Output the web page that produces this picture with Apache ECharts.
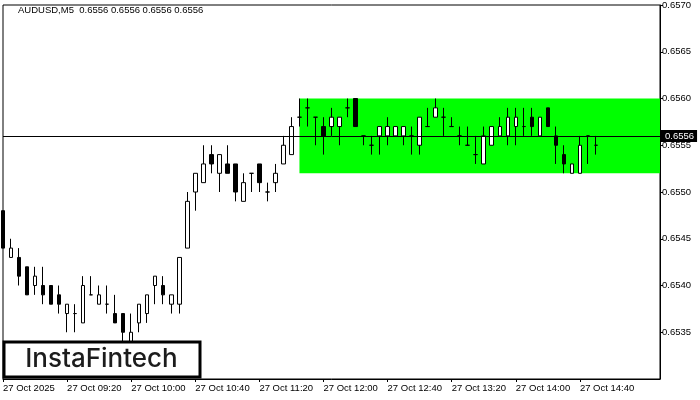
<!DOCTYPE html>
<html>
<head>
<meta charset="utf-8">
<script src="https://cdn.jsdelivr.net/npm/echarts@6/dist/echarts.min.js"></script>
<style>html,body{margin:0;padding:0;background:#fff}#c{width:700px;height:400px}</style>
</head>
<body>
<div id="c"></div>
<script>
// ---- data (AUDUSD, M5, 27 Oct 2025) ----
var categories = ["08:40","08:45","08:50","08:55","09:00","09:05","09:10","09:15",
  "09:20","09:25","09:30","09:35","09:40","09:45","09:50","09:55",
  "10:00","10:05","10:10","10:15","10:20","10:25","10:30","10:35",
  "10:40","10:45","10:50","10:55","11:00","11:05","11:10","11:15",
  "11:20","11:25","11:30","11:35","11:40","11:45","11:50","11:55",
  "12:00","12:05","12:10","12:15","12:20","12:25","12:30","12:35",
  "12:40","12:45","12:50","12:55","13:00","13:05","13:10","13:15",
  "13:20","13:25","13:30","13:35","13:40","13:45","13:50","13:55",
  "14:00","14:05","14:10","14:15","14:20","14:25","14:30","14:35",
  "14:40","14:45","14:50","14:55","15:00","15:05","15:10","15:15",
  "15:20","15:25","15:30"];
var openP  = [0.6548,0.6543,0.6543,0.6542,0.6540,0.6540,0.6540,0.6539,0.6537,0.6537,
  0.6536,0.6539,0.6538,0.6538,0.6537,0.6537,0.6534,0.6536,0.6537,0.6540,
  0.6540,0.6538,0.6538,0.6544,0.6550,0.6551,0.6554,0.6552,0.6553,0.6553,
  0.6549,0.6552,0.6553,0.6550,0.6551,0.6553,0.6554,0.6558,0.6559,0.6558,
  0.6557,0.6557,0.6557,0.6559,0.6560,0.6556,0.6555,0.6556,0.6556,0.6556,
  0.6556,0.6556,0.6555,0.6557,0.6558,0.6558,0.6557,0.6556,0.6555,0.6554,
  0.6553,0.6555,0.6556,0.6556,0.6557,0.6557,0.6558,0.6556,0.6559,0.6556,
  0.6554,0.6552,0.6552,0.6556,0.6555];
var highP  = [0.6548,0.6545,0.6544,0.6542,0.6542,0.6542,0.6540,0.6540,0.6538,0.6538,
  0.6541,0.6541,0.6540,0.6540,0.6539,0.6537,0.6537,0.6538,0.6539,0.6541,
  0.6541,0.6539,0.6543,0.6550,0.6552,0.6555,0.6555,0.6554,0.6555,0.6553,
  0.6552,0.6552,0.6553,0.6551,0.6553,0.6556,0.6558,0.6560,0.6560,0.6558,
  0.6558,0.6559,0.6558,0.6560,0.6560,0.6556,0.6556,0.6557,0.6558,0.6557,
  0.6557,0.6557,0.6558,0.6559,0.6560,0.6559,0.6558,0.6557,0.6557,0.6556,
  0.6557,0.6557,0.6558,0.6559,0.6559,0.6559,0.6559,0.6558,0.6559,0.6557,
  0.6555,0.6553,0.6556,0.6556,0.6556];
var lowP   = [0.6544,0.6543,0.6540,0.6539,0.6539,0.6538,0.6538,0.6537,0.6535,0.6535,
  0.6536,0.6539,0.6538,0.6537,0.6536,0.6533,0.6534,0.6535,0.6536,0.6538,
  0.6538,0.6537,0.6537,0.6544,0.6548,0.6551,0.6552,0.6550,0.6552,0.6549,
  0.6549,0.6550,0.6550,0.6549,0.6550,0.6553,0.6554,0.6557,0.6557,0.6555,
  0.6554,0.6556,0.6555,0.6558,0.6557,0.6555,0.6554,0.6554,0.6555,0.6556,
  0.6555,0.6554,0.6554,0.6557,0.6558,0.6556,0.6557,0.6555,0.6555,0.6553,
  0.6553,0.6555,0.6556,0.6555,0.6555,0.6556,0.6556,0.6556,0.6557,0.6553,
  0.6552,0.6552,0.6552,0.6553,0.6554];
var closeP = [0.6544,0.6544,0.6541,0.6539,0.6541,0.6539,0.6538,0.6538,0.6538,0.6537,
  0.6540,0.6539,0.6539,0.6538,0.6536,0.6535,0.6535,0.6538,0.6539,0.6541,
  0.6539,0.6539,0.6543,0.6549,0.6552,0.6553,0.6553,0.6554,0.6552,0.6550,
  0.6551,0.6552,0.6551,0.6550,0.6552,0.6555,0.6557,0.6558,0.6559,0.6558,
  0.6556,0.6558,0.6558,0.6559,0.6557,0.6556,0.6555,0.6557,0.6557,0.6557,
  0.6557,0.6556,0.6558,0.6557,0.6559,0.6558,0.6557,0.6556,0.6555,0.6554,
  0.6556,0.6557,0.6557,0.6558,0.6558,0.6557,0.6557,0.6558,0.6557,0.6555,
  0.6553,0.6553,0.6555,0.6556,0.6555];
var tickLabels = ["27 Oct 2025","27 Oct 09:20","27 Oct 10:00","27 Oct 10:40","27 Oct 11:20",
  "27 Oct 12:00","27 Oct 12:40","27 Oct 13:20","27 Oct 14:00","27 Oct 14:40"];
var labelStep = 8;
var yMin = 0.6530, yMax = 0.6570, yStep = 0.0005;
var currentPrice = 0.6556;
var zoneStart = "11:45", zoneEnd = "15:30";
var zoneHigh = 0.6560, zoneLow = 0.6552;
var titleText = "AUDUSD,M5  0.6556 0.6556 0.6556 0.6556";
var logoText = "InstaFintech";

var ohlc = openP.map(function (o, i) { return [o, closeP[i], lowP[i], highP[i]]; });
var FONT = "Liberation Sans";
var showTick = function (idx) { return idx % labelStep === 0 && idx / labelStep < tickLabels.length; };
var firstCat = categories[0], lastCat = categories[categories.length - 1];

var chart = echarts.init(document.getElementById('c'), null, { renderer: 'canvas' });
chart.setOption({
  animation: false,
  backgroundColor: '#fff',
  grid: { left: 2, right: 40, top: 3, bottom: 21, show: true, borderColor: '#000', borderWidth: 1, backgroundColor: 'transparent' },
  xAxis: {
    type: 'category', data: categories, boundaryGap: false,
    axisLine: { show: true, lineStyle: { color: '#000', width: 1 } },
    axisTick: { show: true, interval: function (idx) { return showTick(idx); }, length: 3, lineStyle: { color: '#000' } },
    axisLabel: {
      interval: function (idx) { return showTick(idx); },
      formatter: function (v, idx) { return showTick(idx) ? tickLabels[idx / labelStep] : ''; },
      align: 'left', margin: 4, color: '#000', fontFamily: FONT, fontSize: 9.5
    },
    splitLine: { show: false }
  },
  yAxis: {
    type: 'value', position: 'right', min: yMin, max: yMax, interval: yStep, scale: true,
    axisLine: { show: true, lineStyle: { color: '#000', width: 1 } },
    axisTick: { show: true, length: 3, lineStyle: { color: '#000' } },
    axisLabel: { showMinLabel: false, margin: 2, color: '#000', fontFamily: FONT, fontSize: 9.5,
      formatter: function (v) { return v.toFixed(4); } },
    splitLine: { show: false }
  },
  series: [{
    type: 'candlestick', data: ohlc, barWidth: 4, clip: true, z: 3,
    itemStyle: { color: '#fff', color0: '#000', borderColor: '#000', borderColor0: '#000', borderWidth: 1 },
    markArea: {
      silent: true,
      itemStyle: { color: '#00ff00', opacity: 1 },
      data: [[{ xAxis: zoneStart, yAxis: zoneHigh }, { xAxis: zoneEnd, yAxis: zoneLow }]]
    }
  }, {
    type: 'line', data: [], z: 2, silent: true,
    markLine: {
      silent: true, symbol: ['none', 'none'], animation: false,
      lineStyle: { color: '#000', width: 1, type: 'solid' },
      label: { show: true, position: 'end', distance: 1, formatter: currentPrice.toFixed(4),
        backgroundColor: '#000', color: '#fff', fontFamily: FONT, fontSize: 9.5,
        padding: [1, 3, 1, 4], lineHeight: 10 },
      data: [[{ xAxis: firstCat, yAxis: currentPrice }, { xAxis: lastCat, yAxis: currentPrice }]]
    }
  }],
  graphic: [
    { type: 'text', left: 18, top: 5, z: 100,
      style: { text: titleText, fill: '#000', font: '9.5px "Liberation Sans"' } },
    { type: 'rect', z: 100, shape: { x: 4, y: 342, width: 196, height: 35 },
      style: { fill: '#fff', stroke: '#000', lineWidth: 3 } },
    { type: 'text', z: 101, x: 101.5, y: 359,
      style: { text: logoText, fill: '#1c1c1c', font: '500 26px Inter', align: 'center', verticalAlign: 'middle' } }
  ]
});
</script>
</body>
</html>
